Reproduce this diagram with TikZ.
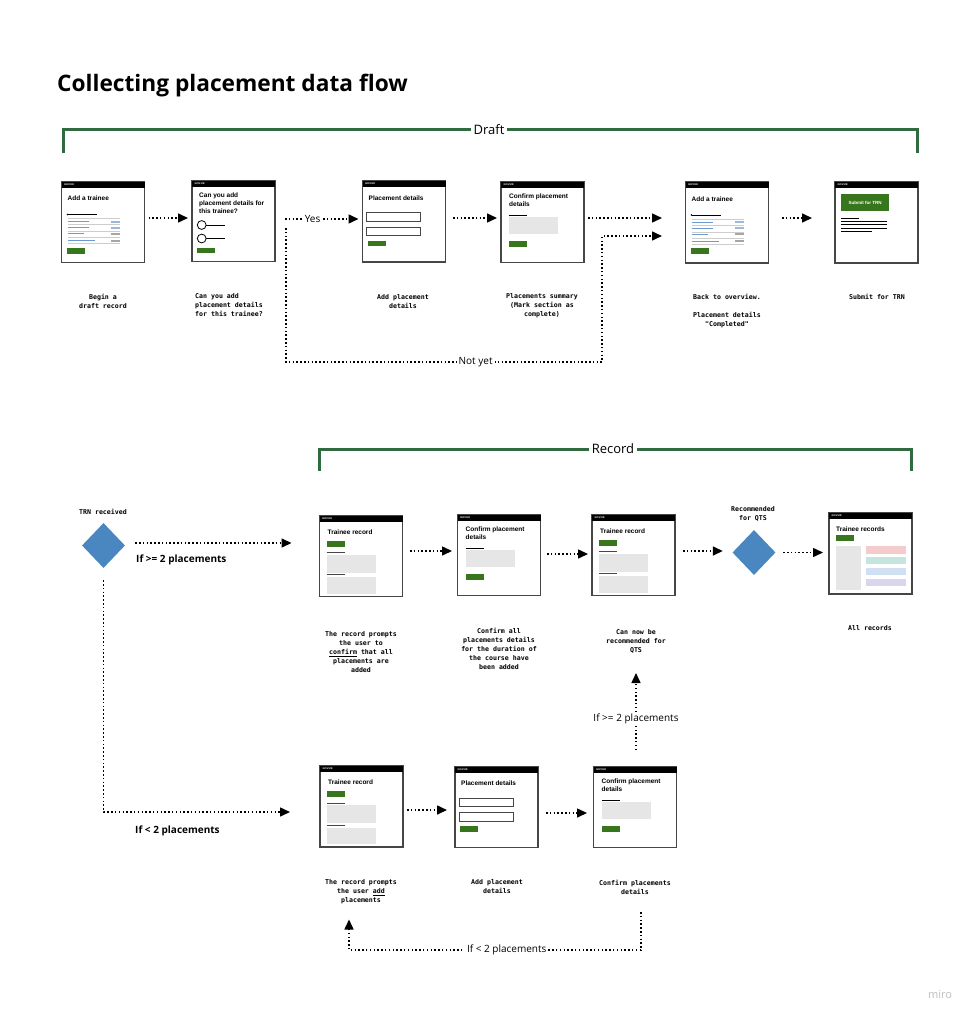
\documentclass[tikz,border=0pt]{standalone}
\usepackage{fontspec}
\setmainfont{Open Sans}
\newfontfamily\scrfont{Liberation Sans}
\newfontfamily\capfont{DejaVu Sans Mono}
\usetikzlibrary{arrows.meta,shapes.geometric,calc}
\definecolor{brk}{RGB}{47,106,64}
\definecolor{btn}{RGB}{56,118,29}
\definecolor{diam}{RGB}{74,134,192}
\definecolor{panel}{RGB}{230,230,230}
\definecolor{scrb}{RGB}{70,70,70}
\definecolor{sepc}{RGB}{205,205,205}
\definecolor{bluel}{RGB}{110,155,205}
\definecolor{pinkc}{RGB}{244,204,204}
\definecolor{tealc}{RGB}{196,230,222}
\definecolor{bluec}{RGB}{207,224,242}
\definecolor{lavc}{RGB}{218,212,236}
\tikzset{
 scrbox/.style={draw=scrb, line width=1.3pt, fill=white, minimum width=83pt, minimum height=81pt, inner sep=0pt, outer sep=0pt},
 stitle/.style={font=\scrfont\bfseries\fontsize{6.5}{7.8}\selectfont, anchor=north west, inner sep=0pt, align=left},
 captxt/.style={font=\capfont\bfseries\fontsize{6.6}{9}\selectfont, align=center, inner sep=0pt},
 flowarrow/.style={line width=1.5pt, dash pattern=on 1.5pt off 2.3pt, -{Triangle[length=10pt,width=9pt]}},
 lbl/.style={font=\fontsize{10}{12}\selectfont, fill=white, inner sep=2pt},
 blbl/.style={font=\bfseries\fontsize{10}{12}\selectfont, inner sep=0pt},
 brklbl/.style={font=\fontsize{13}{15}\selectfont, fill=white, inner sep=3pt},
 brkline/.style={draw=brk, line width=3pt},
 decision/.style={diamond, fill=diam, minimum width=43pt, minimum height=45pt, inner sep=0pt},
}
\newcommand\scrtop[1]{%
 \fill[black] (#1.north west) rectangle ([yshift=-6pt]#1.north east);
 \node[font=\scrfont\bfseries\fontsize{2.6}{3}\selectfont, text=white, anchor=west, inner sep=0pt] (#1bar) at ([xshift=2.5pt,yshift=-3pt]#1.north west) {GOV.UK};}
\newcommand\scrAddTrainee[1]{%
 \scrtop{#1}%
 \begin{scope}[shift={(#1.north west)}]
  \node[stitle, anchor=west] (#1t) at (6,17) {Add a trainee};
  \fill (6,33) circle (0.9);
  \draw[line width=0.9pt] (6,33) -- (35,33);
  \foreach \yy in {37,43,50,56,62} \draw[sepc, line width=0.6pt] (6,\yy) -- (58,\yy);
  \foreach \yy/\xx in {40/27,46/27,52/22,59/33} \draw[bluel, line width=0.8pt] (6,\yy) -- (\xx,\yy);
  \foreach \yy/\cc in {40/bluel,46/bluel,52/gray,59/gray} \fill[\cc!70] (49,\yy-1) rectangle (58,\yy+1);
  \fill[btn] (5,66) rectangle (23,72);
 \end{scope}}
\newcommand\scrQuestion[1]{%
 \scrtop{#1}%
 \begin{scope}[shift={(#1.north west)}]
  \node[stitle] (#1t) at (7,12.5) {Can you add\\placement details for\\this trainee?};
  \draw[line width=0.8pt] (9.7,44.5) circle (4.4); \draw[line width=0.9pt] (14.1,44.5) -- (33,44.5);
  \draw[line width=0.8pt] (9.7,58) circle (4.4); \draw[line width=0.9pt] (14.1,58) -- (33,58);
  \fill[btn] (5,67) rectangle (23,72);
 \end{scope}}
\newcommand\scrPlacement[1]{%
 \scrtop{#1}%
 \begin{scope}[shift={(#1.north west)}]
  \node[stitle, anchor=west] (#1t) at (6,17) {Placement details};
  \draw[scrb, line width=0.9pt] (4,31.5) rectangle (58,40);
  \draw[scrb, line width=0.9pt] (4,46) rectangle (58,54.5);
  \fill[btn] (5,59.5) rectangle (23,65);
 \end{scope}}
\newcommand\scrConfirm[1]{%
 \scrtop{#1}%
 \begin{scope}[shift={(#1.north west)}]
  \node[stitle] (#1t) at (8,12) {Confirm placement\\details};
  \draw[line width=0.9pt] (8,33.5) -- (26,33.5);
  \fill[panel] (8,35.5) rectangle (57,52.5);
  \fill[btn] (8,59.5) rectangle (26,65);
 \end{scope}}
\newcommand\scrSubmit[1]{%
 \scrtop{#1}%
 \begin{scope}[shift={(#1.north west)}]
  \fill[btn] (6,12) rectangle (54,29);
  \node[font=\scrfont\bfseries\fontsize{4.5}{5}\selectfont, text=white, inner sep=0pt] (#1t) at (30,20.5) {Submit for TRN};
  \draw[line width=0.8pt] (6,36) -- (24,36);
  \foreach \yy/\xx in {39/52,42/52,46/52,49/37} \draw[line width=0.8pt] (6,\yy) -- (\xx,\yy);
 \end{scope}}
\newcommand\scrRecord[1]{%
 \scrtop{#1}%
 \begin{scope}[shift={(#1.north west)}]
  \node[stitle, anchor=west] (#1t) at (8,16.5) {Trainee record};
  \fill[btn] (7,25) rectangle (25,31);
  \draw[scrb, line width=0.8pt] (7,37) -- (25,37);
  \fill[panel] (7,39) rectangle (56,57);
  \draw[scrb, line width=0.8pt] (7,59) -- (25,59);
  \fill[panel] (7,61.5) rectangle (56,78);
 \end{scope}}
\newcommand\scrRecords[1]{%
 \scrtop{#1}%
 \begin{scope}[shift={(#1.north west)}]
  \node[stitle, anchor=west] (#1t) at (7,16.5) {Trainee records};
  \fill[btn] (7,22) rectangle (25,27.5);
  \fill[panel] (7,33) rectangle (32,77);
  \fill[pinkc] (37,33) rectangle (77,41);
  \fill[tealc] (37,44) rectangle (77,51);
  \fill[bluec] (37,55) rectangle (77,62);
  \fill[lavc] (37,66) rectangle (77,73);
 \end{scope}}
\begin{document}
\begin{tikzpicture}[x=1pt,y=-1pt]
\useasboundingbox[fill=white] (0,0) rectangle (978,1022);
\node[font=\bfseries\fontsize{22.7}{26}\selectfont, anchor=base west, inner sep=0pt] (title) at (57,92) {Collecting placement data flow};

% brackets
\draw[brkline] (63,153) -- (63,130) -- (917,130) -- (917,153);
\node[brklbl] (draft) at (489,130) {Draft};
\draw[brkline] (319,471) -- (319,449) -- (911,449) -- (911,471);
\node[brklbl] (record) at (613,449) {Record};

% top row screens
\node[scrbox] (s1) at (103,222) {}; \scrAddTrainee{s1}
\node[scrbox] (s2) at (233.5,221) {}; \scrQuestion{s2}
\node[scrbox] (s3) at (404,221.5) {}; \scrPlacement{s3}
\node[scrbox] (s4) at (542.5,222) {}; \scrConfirm{s4}
\node[scrbox] (s5) at (727,222.5) {}; \scrAddTrainee{s5}
\node[scrbox] (s6) at (876.5,222.5) {}; \scrSubmit{s6}

% top captions
\node[captxt] (c1) at (103,301.5) {Begin a\\draft record};
\node[captxt, anchor=west, align=left] (c2) at (195,305) {Can you add\\placement details\\for this trainee?};
\node[captxt] (c3) at (403,301.5) {Add placement\\details};
\node[captxt] (c4) at (542,306) {Placements summary\\(Mark section as\\complete)};
\node[captxt] (c5) at (727,311) {Back to overview.\\[9.5pt]Placement details\\"Completed"};
\node[captxt] (c6) at (877,297) {Submit for TRN};

% top arrows
\draw[flowarrow, shorten <=4pt, shorten >=4pt] ([yshift=4pt]s1.east) -- ([yshift=4pt]s1.east -| s2.west);
\draw[flowarrow, shorten <=10pt, shorten >=4pt] ([yshift=2pt]s2.east) -- node[lbl, pos=0.43] (yes) {Yes} ([yshift=2pt]s2.east -| s3.west);
\draw[flowarrow, shorten <=7.5pt, shorten >=4pt] ([yshift=3.5pt]s3.east) -- ([yshift=3.5pt]s3.east -| s4.west);
\draw[flowarrow, shorten <=4pt, shorten >=23.5pt] ([yshift=4pt]s4.east) -- ([yshift=4pt]s4.east -| s5.west);
\draw[flowarrow, shorten <=13.5pt, shorten >=23pt] ([yshift=4.5pt]s5.east) -- ([yshift=4.5pt]s5.east -| s6.west);
\coordinate (ny1) at ([xshift=11pt,yshift=-7pt]s2.east);
\coordinate (ny2) at (602,362);
\draw[flowarrow, shorten >=23.5pt] (ny1) |- node[lbl, pos=0.8] (notyet) {Not yet} (ny2) |- ([yshift=-13.5pt]s5.west);

% row 2
\node[decision] (d1) at (103.5,545.5) {};
\node[captxt] (trn) at (103,512) {TRN received};
\node[scrbox] (A) at (361,556) {}; \scrRecord{A}
\node[scrbox] (B) at (499,555) {}; \scrConfirm{B}
\node[scrbox] (C) at (633.5,555) {}; \scrRecord{C}
\node[decision] (d2) at (754,552.5) {};
\node[captxt] (rqts) at (753,513.5) {Recommended\\for QTS};
\node[scrbox] (D) at (870.5,553.5) {}; \scrRecords{D}

\draw[flowarrow, shorten <=10pt, shorten >=28pt] ([yshift=2.5pt]d1.east) -- ([yshift=2.5pt]d1.east -| A.west);
\node[blbl, anchor=west] (ge2) at (136,560) {If >= 2 placements};
\draw[flowarrow, shorten <=7.5pt, shorten >=5.5pt] ([yshift=5pt]A.east) -- ([yshift=5pt]A.east -| B.west);
\draw[flowarrow, shorten <=6.5pt, shorten >=4pt] ([yshift=1pt]B.east) -- ([yshift=1pt]B.east -| C.west);
\draw[flowarrow, shorten <=8pt, shorten >=9.5pt] ([yshift=4pt]C.east) -- ([yshift=4pt]C.east -| d2.west);
\draw[flowarrow, shorten <=7.5pt, shorten >=6pt] (d2.east) -- (d2.east -| D.west);

\node[captxt] (cA) at (361,652) {The record prompts\\the user to\\\underline{confirm} that all\\placements are\\added};
\node[captxt] (cB) at (499,648.5) {Confirm all\\placements details\\for the duration of\\the course have\\been added};
\node[captxt] (cC) at (636,641) {Can now be\\recommended for\\QTS};
\node[captxt] (cD) at (870,628) {All records};

% row 3
\node[scrbox] (E) at (361.5,806.5) {}; \scrRecord{E}
\node[scrbox] (F) at (496.5,807) {}; \scrPlacement{F}
\node[scrbox] (G) at (635,807) {}; \scrConfirm{G}

\draw[flowarrow, shorten <=12pt, shorten >=30pt] (d1.south) |- ([yshift=-5.5pt]E.west);
\node[blbl, anchor=west] (lt2) at (135,830.5) {If < 2 placements};
\draw[flowarrow, shorten <=4pt, shorten >=8pt] ([yshift=-3.5pt]E.east) -- ([yshift=-3.5pt]E.east -| F.west);
\draw[flowarrow, shorten <=8pt, shorten >=6.5pt] ([yshift=-6pt]F.east) -- ([yshift=-6pt]F.east -| G.west);
\draw[flowarrow, shorten <=16.5pt, shorten >=77.5pt] ([xshift=1pt]G.north) -- node[lbl, pos=0.278] (ge2b) {If >= 2 placements} ([xshift=1pt]G.north |- C.south);

\node[captxt] (cE) at (361,892) {The record prompts\\the user \underline{add}\\placements};
\node[captxt] (cF) at (497,887) {Add placement\\details};
\node[captxt] (cG) at (635,887) {Confirm placements\\details};

\coordinate (lpS) at ([xshift=6pt,yshift=-64.5pt]G.south);
\coordinate (lpE) at ([xshift=-12.5pt,yshift=-72.5pt]E.south);
\draw[flowarrow] (lpS) -- ++(0,38) -| node[lbl, pos=0.23] (lt2b) {If < 2 placements} (lpE);

\node[font=\fontsize{11}{13}\selectfont, text=black!25] (miro) at (940,995) {miro};
\end{tikzpicture}
\end{document}
